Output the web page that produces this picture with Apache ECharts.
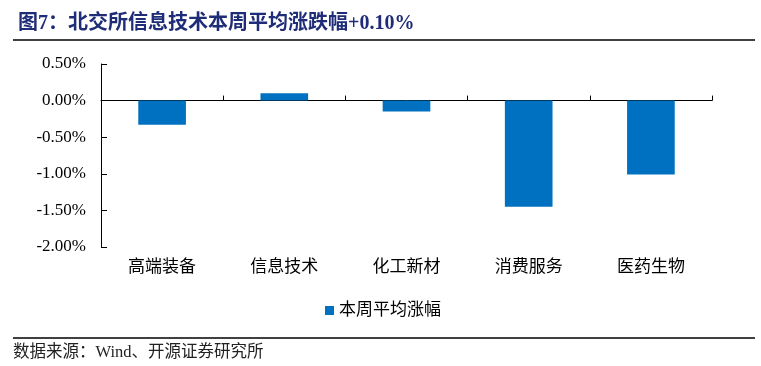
<!DOCTYPE html>
<html><head><meta charset="utf-8">
<script src="https://cdn.jsdelivr.net/npm/echarts@6/dist/echarts.min.js"></script>
<style>html,body{margin:0;padding:0;background:#fff}#c{width:761px;height:366px}</style>
</head><body><div id="c"></div>
<script>
const categories = ['高端装备', '信息技术', '化工新材', '消费服务', '医药生物'];
const weeklyChange = [-0.33, 0.10, -0.15, -1.45, -1.01];
const seriesName = '本周平均涨幅';
const titleText = '图7：北交所信息技术本周平均涨跌幅+0.10%';
const sourceText = '数据来源：Wind、开源证券研究所';

const serifCJK = "'Liberation Serif', 'Noto Sans CJK SC', serif";
const chart = echarts.init(document.getElementById('c'), null, {renderer: 'canvas'});
chart.setOption({
  animation: false,
  backgroundColor: '#fff',
  grid: {left: 101, right: 49, top: 64, bottom: 119, containLabel: false},
  title: {
    text: titleText, left: 13, top: 9,
    textStyle: {fontFamily: serifCJK, fontSize: 20, fontWeight: 'bold', color: '#1F2C78'}
  },
  graphic: [
    {type: 'line', shape: {x1: 13, y1: 40, x2: 755, y2: 40}, style: {stroke: '#000', lineWidth: 1.5}},
    {type: 'line', shape: {x1: 13, y1: 338, x2: 755, y2: 338}, style: {stroke: '#000', lineWidth: 1.5}},
    {type: 'text', left: 13, top: 344, style: {text: sourceText, font: "16.5px " + serifCJK, fill: '#222'}}
  ],
  legend: {
    data: [seriesName], left: 320, top: 297,
    icon: 'rect', itemWidth: 9, itemHeight: 9, itemGap: 4,
    textStyle: {fontFamily: serifCJK, fontSize: 17, color: '#000'}
  },
  xAxis: [{
    type: 'category', data: categories,
    axisLine: {onZero: true, lineStyle: {color: '#000', width: 1}},
    axisTick: {show: true, inside: true, length: 5, lineStyle: {color: '#000'}},
    axisLabel: {show: false}
  }, {
    type: 'category', data: categories, position: 'bottom',
    axisLine: {show: false, onZero: false},
    axisTick: {show: false},
    axisLabel: {show: true, margin: 12, fontFamily: serifCJK, fontSize: 17, color: '#000'}
  }],
  yAxis: {
    type: 'value', min: -2, max: 0.5, interval: 0.5,
    axisLine: {show: true, lineStyle: {color: '#000', width: 1}},
    axisTick: {show: true, inside: true, length: 6, lineStyle: {color: '#000'}},
    splitLine: {show: false},
    axisLabel: {margin: 15, fontFamily: "'Liberation Serif', serif", fontSize: 17, color: '#000',
      formatter: v => v.toFixed(2) + '%'}
  },
  series: [{
    name: seriesName, type: 'bar', data: weeklyChange, barWidth: '39%',
    itemStyle: {color: '#0070C0'}
  }]
});
</script></body></html>
